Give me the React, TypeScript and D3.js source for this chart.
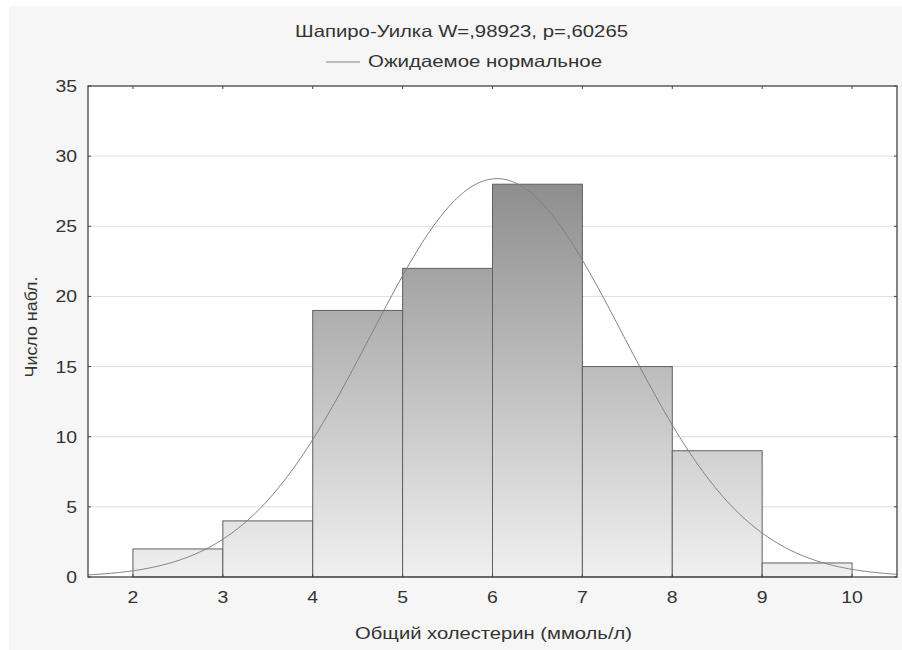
import React from "react";
import * as d3 from "d3";

const binStarts = [2, 3, 4, 5, 6, 7, 8, 9];
const binEnds = [3, 4, 5, 6, 7, 8, 9, 10];
const counts = [2, 4, 19, 22, 28, 15, 9, 1];
const xTicks = [2, 3, 4, 5, 6, 7, 8, 9, 10];
const yTicks = [0, 5, 10, 15, 20, 25, 30, 35];
const normalMean = 6.05;
const normalSd = 1.405;
const totalN = 100;
const binWidth = 1;

const title = "Шапиро-Уилка W=,98923, p=,60265";
const legendLabel = "Ожидаемое нормальное";
const xTitle = "Общий холестерин (ммоль/л)";
const yTitle = "Число набл.";

export default function App() {
  const W = 902, H = 650;
  const L = 88, R = 897, T = 86, B = 577;
  const x = d3.scaleLinear().domain([1.5, 10.5]).range([L, R]);
  const y = d3.scaleLinear().domain([0, 35]).range([B, T]);
  const font = "'Liberation Sans', Arial, sans-serif";
  const digitW = 10.8;

  const curveXs = d3.range(1.5, 10.5001, 0.02);
  const pdf = (v: number) =>
    (totalN * binWidth) / (normalSd * Math.sqrt(2 * Math.PI)) *
    Math.exp(-((v - normalMean) ** 2) / (2 * normalSd * normalSd));
  const line = d3.line<number>().x((d) => x(d)).y((d) => y(pdf(d)));

  return (
    <svg width={W} height={H} style={{ position: "absolute", left: 0, top: 0 }} fontFamily={font}>
      <defs>
        <linearGradient id="barGrad" gradientUnits="userSpaceOnUse" x1="0" y1={y(28)} x2="0" y2={B}>
          <stop offset="0" stopColor="#8e8e8e" />
          <stop offset="1" stopColor="#f0f0f0" />
        </linearGradient>
        <clipPath id="plotClip">
          <rect x={L} y={T} width={R - L} height={B - T} />
        </clipPath>
      </defs>
      <rect x={0} y={0} width={W} height={H} fill="#ffffff" />
      <rect x={9} y={6} width={W - 9} height={H - 6} fill="#f6f6f6" />
      <rect x={L} y={T} width={R - L} height={B - T} fill="#ffffff" />

      {yTicks.slice(1, -1).map((t) => (
        <line key={"g" + t} x1={L} x2={R} y1={y(t)} y2={y(t)} stroke="#dedede" strokeWidth={1} />
      ))}

      {counts.map((c, i) => (
        <rect
          key={"b" + i}
          x={x(binStarts[i])}
          y={y(c)}
          width={x(binEnds[i]) - x(binStarts[i])}
          height={B - y(c)}
          fill="url(#barGrad)"
          stroke="#606060"
          strokeWidth={1}
        />
      ))}

      <path d={line(curveXs) || ""} fill="none" stroke="#808080" strokeWidth={1} clipPath="url(#plotClip)" />

      <rect x={L} y={T} width={R - L} height={B - T} fill="none" stroke="#444" strokeWidth={1.3} />

      {yTicks.map((t) => (
        <g key={"yt" + t}>
          <line x1={L} x2={L + 3} y1={y(t)} y2={y(t)} stroke="#444" />
          <line x1={R - 3} x2={R} y1={y(t)} y2={y(t)} stroke="#444" />
          <text x={L - 11} y={y(t) + 6} textAnchor="end" fontSize={16.5} fill="#333"
            textLength={String(t).length * digitW} lengthAdjust="spacingAndGlyphs">{t}</text>
        </g>
      ))}
      {xTicks.map((t) => (
        <g key={"xt" + t}>
          <line x1={x(t)} x2={x(t)} y1={B} y2={B - 3} stroke="#444" />
          <line x1={x(t)} x2={x(t)} y1={T} y2={T + 3} stroke="#444" />
          <text x={x(t)} y={B + 26} textAnchor="middle" fontSize={16.5} fill="#333"
            textLength={String(t).length * digitW} lengthAdjust="spacingAndGlyphs">{t}</text>
        </g>
      ))}

      <text x={461.5} y={37} textAnchor="middle" fontSize={16.5} fill="#333"
        textLength={333} lengthAdjust="spacingAndGlyphs">{title}</text>
      <line x1={326} x2={360} y1={62} y2={62} stroke="#808080" strokeWidth={1} />
      <text x={368} y={67} fontSize={16.5} fill="#333"
        textLength={234} lengthAdjust="spacingAndGlyphs">{legendLabel}</text>

      <text x={493.5} y={639} textAnchor="middle" fontSize={16} fill="#333"
        textLength={277} lengthAdjust="spacingAndGlyphs">{xTitle}</text>
      <text transform={`translate(37,327) rotate(-90)`} textAnchor="middle" fontSize={16} fill="#333"
        textLength={101} lengthAdjust="spacingAndGlyphs">{yTitle}</text>
    </svg>
  );
}
